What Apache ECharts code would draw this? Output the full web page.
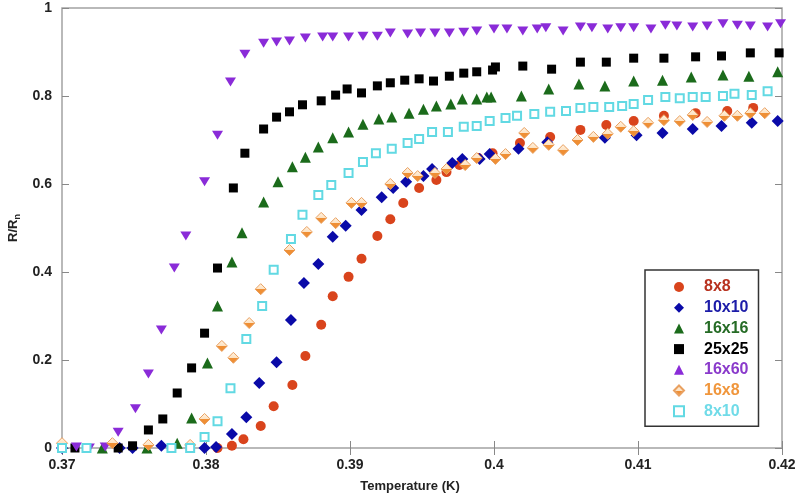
<!DOCTYPE html>
<html>
<head>
<meta charset="utf-8">
<script src="https://cdn.jsdelivr.net/npm/echarts@6/dist/echarts.min.js"></script>
<style>
html, body { margin: 0; padding: 0; background: #fff; }
#chart { width: 796px; height: 500px; }
</style>
</head>
<body>
<div id="chart"></div>
<script>
var font = "'Liberation Sans', Arial, sans-serif"

var names = ['8x8', '10x10', '16x16', '25x25', '16x60', '16x8', '8x10']
var xTicks = [0.37, 0.38, 0.39, 0.4, 0.41, 0.42]
var yTicks = [0, 0.2, 0.4, 0.6, 0.8, 1]

// temperature (K) and R/Rn for each sample size
var t8x8 = [0.3808, 0.3818, 0.3826, 0.3838, 0.3847, 0.3860, 0.3869, 0.3880, 0.3888, 0.3899, 0.3908, 0.3919, 0.3928, 0.3937, 0.3948, 0.3960, 0.3967, 0.3976, 0.3989, 0.3999, 0.4018, 0.4039, 0.4060, 0.4078, 0.4097, 0.4118, 0.4140, 0.4162, 0.4180]
var r8x8 = [0, 0.005, 0.020, 0.050, 0.095, 0.143, 0.209, 0.280, 0.345, 0.389, 0.430, 0.482, 0.520, 0.557, 0.591, 0.609, 0.627, 0.643, 0.659, 0.670, 0.693, 0.707, 0.723, 0.734, 0.743, 0.755, 0.761, 0.766, 0.773]

var t10x10 = [0.3700, 0.3740, 0.3749, 0.3769, 0.3799, 0.3807, 0.3818, 0.3828, 0.3837, 0.3849, 0.3859, 0.3868, 0.3878, 0.3888, 0.3897, 0.3908, 0.3922, 0.3930, 0.3939, 0.3951, 0.3957, 0.3971, 0.3978, 0.3990, 0.3997, 0.4017, 0.4037, 0.4077, 0.4099, 0.4117, 0.4138, 0.4158, 0.4179, 0.4197]
var r10x10 = [0, 0, 0, 0.005, 0, 0.002, 0.032, 0.070, 0.148, 0.195, 0.291, 0.375, 0.418, 0.480, 0.505, 0.541, 0.570, 0.591, 0.605, 0.618, 0.634, 0.648, 0.657, 0.657, 0.668, 0.680, 0.695, 0.705, 0.711, 0.716, 0.725, 0.732, 0.739, 0.743]

var t16x16 = [0.3728, 0.3759, 0.3780, 0.3790, 0.3801, 0.3808, 0.3818, 0.3825, 0.3840, 0.3850, 0.3860, 0.3869, 0.3878, 0.3888, 0.3899, 0.3909, 0.3920, 0.3929, 0.3941, 0.3951, 0.3960, 0.3970, 0.3978, 0.3988, 0.3995, 0.3998, 0.4019, 0.4038, 0.4059, 0.4077, 0.4097, 0.4117, 0.4137, 0.4159, 0.4177, 0.4197]
var r16x16 = [0, 0, 0.011, 0.068, 0.193, 0.323, 0.423, 0.489, 0.559, 0.605, 0.639, 0.661, 0.684, 0.705, 0.718, 0.736, 0.748, 0.752, 0.761, 0.770, 0.777, 0.782, 0.793, 0.793, 0.798, 0.798, 0.800, 0.816, 0.827, 0.823, 0.834, 0.836, 0.843, 0.848, 0.845, 0.855]

var t25x25 = [0.3709, 0.3739, 0.3749, 0.3760, 0.3770, 0.3780, 0.3790, 0.3799, 0.3808, 0.3819, 0.3827, 0.3840, 0.3849, 0.3858, 0.3867, 0.3880, 0.3890, 0.3898, 0.3908, 0.3919, 0.3928, 0.3938, 0.3948, 0.3958, 0.3969, 0.3979, 0.3988, 0.3999, 0.4001, 0.4020, 0.4040, 0.4060, 0.4078, 0.4097, 0.4118, 0.4140, 0.4158, 0.4178, 0.4198]
var r25x25 = [0, 0, 0.005, 0.041, 0.066, 0.125, 0.182, 0.261, 0.409, 0.591, 0.670, 0.725, 0.752, 0.764, 0.780, 0.789, 0.802, 0.816, 0.807, 0.823, 0.830, 0.836, 0.839, 0.834, 0.845, 0.852, 0.855, 0.859, 0.866, 0.868, 0.861, 0.877, 0.877, 0.886, 0.886, 0.889, 0.891, 0.898, 0.898]

var t16x60 = [0.3710, 0.3719, 0.3730, 0.3739, 0.3751, 0.3760, 0.3769, 0.3778, 0.3786, 0.3799, 0.3808, 0.3817, 0.3827, 0.3840, 0.3849, 0.3858, 0.3869, 0.3881, 0.3888, 0.3899, 0.3909, 0.3919, 0.3928, 0.3940, 0.3949, 0.3959, 0.3969, 0.3979, 0.3988, 0.4000, 0.4009, 0.4020, 0.4030, 0.4036, 0.4048, 0.4060, 0.4068, 0.4079, 0.4088, 0.4097, 0.4109, 0.4119, 0.4127, 0.4138, 0.4148, 0.4159, 0.4169, 0.4178, 0.4190, 0.4199]
var r16x60 = [0.002, 0, 0.002, 0.036, 0.089, 0.168, 0.268, 0.409, 0.482, 0.605, 0.711, 0.832, 0.895, 0.920, 0.923, 0.925, 0.932, 0.934, 0.934, 0.934, 0.936, 0.936, 0.943, 0.941, 0.943, 0.943, 0.943, 0.945, 0.948, 0.952, 0.952, 0.948, 0.952, 0.955, 0.948, 0.957, 0.955, 0.952, 0.955, 0.955, 0.952, 0.961, 0.959, 0.957, 0.959, 0.964, 0.961, 0.959, 0.957, 0.964]

var t16x8 = [0.3700, 0.3735, 0.3760, 0.3789, 0.3799, 0.3811, 0.3819, 0.3830, 0.3838, 0.3858, 0.3870, 0.3880, 0.3890, 0.3901, 0.3908, 0.3928, 0.3940, 0.3947, 0.3959, 0.3967, 0.3980, 0.3988, 0.4001, 0.4008, 0.4021, 0.4027, 0.4038, 0.4048, 0.4058, 0.4069, 0.4079, 0.4088, 0.4097, 0.4107, 0.4118, 0.4129, 0.4138, 0.4148, 0.4160, 0.4169, 0.4178, 0.4188]
var r16x8 = [0.011, 0.011, 0.007, 0.007, 0.066, 0.232, 0.205, 0.284, 0.361, 0.450, 0.491, 0.523, 0.511, 0.557, 0.557, 0.600, 0.625, 0.618, 0.625, 0.634, 0.643, 0.659, 0.657, 0.668, 0.716, 0.682, 0.689, 0.677, 0.700, 0.707, 0.714, 0.730, 0.720, 0.739, 0.745, 0.743, 0.757, 0.741, 0.755, 0.755, 0.761, 0.761]

var t8x10 = [0.3700, 0.3717, 0.3776, 0.3789, 0.3799, 0.3808, 0.3817, 0.3828, 0.3839, 0.3847, 0.3859, 0.3867, 0.3878, 0.3887, 0.3899, 0.3909, 0.3918, 0.3929, 0.3940, 0.3948, 0.3957, 0.3968, 0.3979, 0.3988, 0.3997, 0.4008, 0.4016, 0.4028, 0.4039, 0.4050, 0.4060, 0.4069, 0.4080, 0.4089, 0.4097, 0.4107, 0.4119, 0.4129, 0.4138, 0.4147, 0.4159, 0.4167, 0.4179, 0.4190]
var r8x10 = [0, 0, 0, 0, 0.025, 0.061, 0.136, 0.248, 0.323, 0.405, 0.475, 0.530, 0.575, 0.598, 0.625, 0.650, 0.670, 0.680, 0.693, 0.702, 0.718, 0.718, 0.730, 0.732, 0.743, 0.750, 0.755, 0.759, 0.764, 0.766, 0.773, 0.775, 0.775, 0.777, 0.782, 0.791, 0.798, 0.795, 0.798, 0.798, 0.800, 0.805, 0.802, 0.811]

function pairs(t, r) {
	return t.map(function (v, i) {
		return [v, r[i]]
	})
}

var halfFill = {
	type: 'linear',
	x: 0, y: 0, x2: 0, y2: 1,
	colorStops: [
		{ offset: 0, color: '#fff3e2' },
		{ offset: 0.5, color: '#fde2c2' },
		{ offset: 0.5, color: '#ef8f35' },
		{ offset: 1, color: '#ef8f35' },
	],
}

var textColors = ['#b8321f', '#1c1ca8', '#256b25', '#000000', '#8a3acb', '#f0963c', '#70dbe8']

var chart = echarts.init(document.getElementById('chart'))

var tickStyle = { show: true, inside: true, length: 7, lineStyle: { color: '#888', width: 1 } }
var labelStyle = { color: '#222', fontFamily: font, fontWeight: 'bold', fontSize: 14, margin: 10 }
var nameStyle = { color: '#222', fontFamily: font, fontWeight: 'bold', fontSize: 13 }

var option = {
	animation: false,
	backgroundColor: '#fff',
	grid: {
		left: 62,
		right: 14,
		top: 8,
		bottom: 52,
		show: true,
		borderColor: '#a3a3a3',
		borderWidth: 1.5,
		containLabel: false,
		outerBoundsMode: 'none',
	},
	legend: {
		orient: 'vertical',
		left: 645,
		top: 270,
		itemWidth: 10,
		itemHeight: 10,
		itemGap: 4.7,
		padding: [9, 10, 7, 28],
		borderColor: '#333',
		borderWidth: 1.5,
		backgroundColor: '#fff',
		textStyle: { fontFamily: font, fontWeight: 'bold', fontSize: 16, padding: [0, 0, 0, 15] },
		data: names.map(function (n, i) {
			return { name: n, textStyle: { color: textColors[i] } }
		}),
	},
	xAxis: [
		{
			type: 'value',
			min: xTicks[0],
			max: xTicks[xTicks.length - 1],
			interval: 0.01,
			axisLine: { show: false },
			axisTick: tickStyle,
			axisLabel: labelStyle,
			splitLine: { show: false },
			name: 'Temperature (K)',
			nameLocation: 'middle',
			nameGap: 32,
			nameTextStyle: Object.assign({ padding: [0, 24, 0, 0] }, nameStyle),
		},
		{
			type: 'value',
			position: 'top',
			min: xTicks[0],
			max: xTicks[xTicks.length - 1],
			interval: 0.01,
			axisLine: { show: false },
			axisTick: tickStyle,
			axisLabel: { show: false },
			splitLine: { show: false },
		},
	],
	yAxis: [
		{
			type: 'value',
			min: yTicks[0],
			max: yTicks[yTicks.length - 1],
			interval: 0.2,
			axisLine: { show: false },
			axisTick: tickStyle,
			axisLabel: labelStyle,
			splitLine: { show: false },
			name: 'R/R{sub|n}',
			nameLocation: 'middle',
			nameGap: 40,
			nameTextStyle: Object.assign({
				rich: {
					sub: { fontFamily: font, fontWeight: 'bold', fontSize: 9, color: '#222', padding: [8, 0, 0, 0] },
				},
			}, nameStyle),
		},
		{
			type: 'value',
			position: 'right',
			min: yTicks[0],
			max: yTicks[yTicks.length - 1],
			interval: 0.2,
			axisLine: { show: false },
			axisTick: tickStyle,
			axisLabel: { show: false },
			splitLine: { show: false },
		},
	],
	series: [
		{
			name: '8x8',
			type: 'scatter',
			symbol: 'circle',
			symbolSize: 10,
			itemStyle: { color: '#d9441c', opacity: 1 },
			data: pairs(t8x8, r8x8),
		},
		{
			name: '10x10',
			type: 'scatter',
			symbol: 'diamond',
			symbolSize: 12,
			itemStyle: { color: '#0a0aa8', opacity: 1 },
			data: pairs(t10x10, r10x10),
		},
		{
			name: '16x16',
			type: 'scatter',
			symbol: 'triangle',
			symbolSize: 11,
			itemStyle: { color: '#1b6b1b', opacity: 1 },
			data: pairs(t16x16, r16x16),
		},
		{
			name: '25x25',
			type: 'scatter',
			symbol: 'rect',
			symbolSize: 9,
			itemStyle: { color: '#000000', opacity: 1 },
			data: pairs(t25x25, r25x25),
		},
		{
			name: '16x60',
			type: 'scatter',
			symbol: 'triangle',
			symbolRotate: 180,
			symbolSize: [11, 9],
			itemStyle: { color: '#8a2bd8', opacity: 1 },
			data: pairs(t16x60, r16x60),
		},
		{
			name: '16x8',
			type: 'scatter',
			symbol: 'diamond',
			symbolSize: 11,
			itemStyle: { color: halfFill, borderColor: '#e9a060', borderWidth: 1, opacity: 1 },
			data: pairs(t16x8, r16x8),
		},
		{
			name: '8x10',
			type: 'scatter',
			symbol: 'rect',
			symbolSize: 8,
			itemStyle: { color: '#ffffff', borderColor: '#62d9e3', borderWidth: 2, opacity: 1 },
			data: pairs(t8x10, r8x10),
		},
	],
}

chart.setOption(option)
</script>
</body>
</html>
